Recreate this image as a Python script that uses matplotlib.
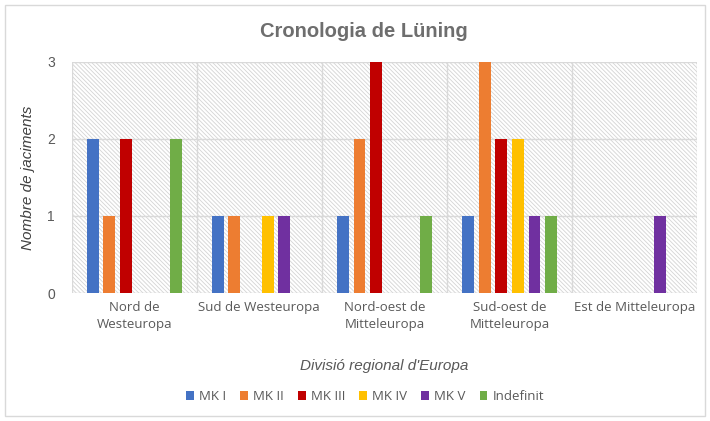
import matplotlib.pyplot as plt
import numpy as np
from matplotlib.patches import Rectangle

regions = ["Nord de\nWesteuropa", "Sud de Westeuropa", "Nord-oest de\nMitteleuropa",
           "Sud-oest de\nMitteleuropa", "Est de Mitteleuropa"]
series = ["MK I", "MK II", "MK III", "MK IV", "MK V", "Indefinit"]
mk1 = [2, 1, 1, 1, 0]
mk2 = [1, 1, 2, 3, 0]
mk3 = [2, 0, 3, 2, 0]
mk4 = [0, 1, 0, 2, 0]
mk5 = [0, 1, 0, 1, 1]
indef = [2, 0, 1, 1, 0]
values = [mk1, mk2, mk3, mk4, mk5, indef]
colors = ["#4472C4", "#ED7D31", "#C00000", "#FFC000", "#7030A0", "#70AD47"]

plt.rcParams['hatch.linewidth'] = 0.6
plt.rcParams['hatch.color'] = '#d4d4d4'

fig = plt.figure(figsize=(7.1, 4.21), dpi=100)
fig.patches.append(Rectangle((0.007, 0.012), 0.986, 0.976, transform=fig.transFigure,
                             fill=False, edgecolor='#d9d9d9', linewidth=1))
ax = fig.add_axes([0.101, 0.304, 0.881, 0.549])

# hatched plot background
ax.add_patch(Rectangle((0, 0), 1, 1, transform=ax.transAxes, facecolor='white',
                       edgecolor='#d4d4d4', hatch='\\' * 8, linewidth=0, zorder=0))

x = np.arange(len(regions))
step = 0.133
width = 0.095
for i, (name, vals, c) in enumerate(zip(series, values, colors)):
    ax.bar(x + (i - 2.5) * step, vals, width, color=c, label=name, zorder=3)

ax.set_xlim(-0.5, len(regions) - 0.5)
ax.set_ylim(0, 3)
ax.set_yticks([0, 1, 2, 3])
ax.set_xticks(x)
ax.set_xticklabels(regions, fontfamily='Open Sans', fontsize=9.5, color='#595959',
                   linespacing=1.35)
ax.set_xticks(np.arange(-0.5, len(regions)), minor=True)
ax.tick_params(axis='both', length=0, which='both')
ax.tick_params(axis='x', pad=6)
ax.tick_params(axis='y', pad=12, labelsize=10, labelcolor='#595959')
for lab in ax.get_yticklabels():
    lab.set_fontfamily('Liberation Sans')
ax.grid(axis='y', color='#d9d9d9', linewidth=1, zorder=1)
ax.grid(axis='x', which='minor', color='#d9d9d9', linewidth=1, zorder=1)
ax.set_axisbelow(True)
for s in ax.spines.values():
    s.set_visible(False)

ax.set_ylabel("Nombre de jaciments", fontfamily='Liberation Sans', fontstyle='italic',
              fontsize=11, color='#404040', labelpad=9)
ax.set_xlabel("Divisió regional d'Europa", fontfamily='Liberation Sans', fontstyle='italic',
              fontsize=11, color='#595959', labelpad=20)
fig.text(0.512, 0.924, "Cronologia de Lüning", ha='center', va='center',
         fontfamily='Liberation Sans', fontweight='bold', fontsize=14.5, color='#6e6e6e')

leg = fig.legend(loc='center', bbox_to_anchor=(0.514, 0.058), ncol=6, frameon=False,
                 handlelength=0.6, handleheight=0.6, handletextpad=0.4, columnspacing=1.05,
                 prop={'family': 'Open Sans', 'size': 9.5})
for t in leg.get_texts():
    t.set_color('#595959')

fig.savefig("out.png", dpi=100)
